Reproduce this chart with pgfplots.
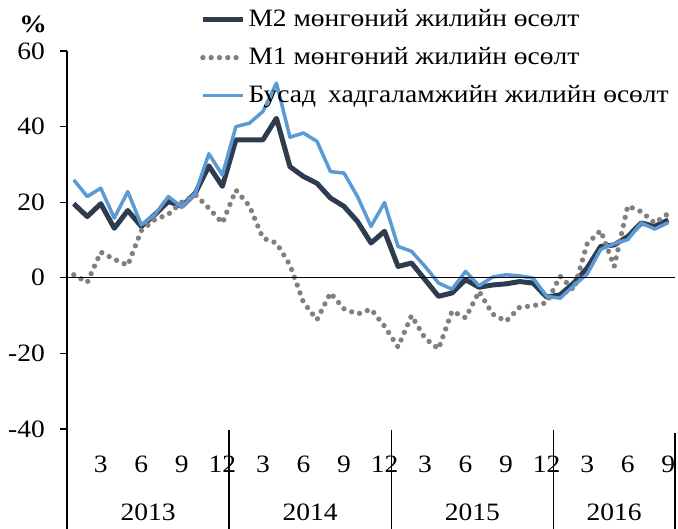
\documentclass[border=0pt]{standalone}
\usepackage{fontspec}
\setmainfont{Liberation Serif}[FakeStretch=1.10]
\usepackage{pgfplots}
\usepackage{pgfplotstable}
\pgfplotsset{compat=1.18}

\definecolor{mtwo}{RGB}{46,60,80}
\definecolor{mone}{RGB}{128,128,128}
\definecolor{busad}{RGB}{91,155,213}

% months 2013-01 .. 2016-09, y/y growth, %
\pgfplotstableread{
m  m2    m1     bus
1  19.6   0.8   25.9
2  16.2  -1.2   21.5
3  19.6   6.8   23.7
4  13.1   4.9   15.8
5  17.8   3.3   22.8
6  13.6  12.5   14.0
7  16.7  15.4   16.7
8  20.2  16.8   21.5
9  18.9  20.0   18.7
10 22.4  22.0   22.4
11 29.6  18.4   32.8
12 24.2  14.5   27.2
13 36.5  23.2   40.0
14 36.5  19.0   40.9
15 36.5  10.5   44.0
16 42.2   9.2   51.5
17 29.4   3.4   37.2
18 26.8  -6.5   38.3
19 25.0 -11.1   36.1
20 21.1  -4.0   28.1
21 18.9  -8.2   27.7
22 14.9  -9.6   21.5
23  9.2  -8.3   13.6
24 12.3 -12.8   19.9
25  3.0 -18.3    8.3
26  3.9 -10.0    7.0
27 -0.5 -16.0    3.0
28 -4.9 -18.8   -1.4
29 -4.0  -8.8   -3.0
30 -0.5 -10.6    1.7
31 -2.5  -3.6   -2.1
32 -1.9  -9.6    0.2
33 -1.6 -11.5    0.8
34 -1.0  -7.8    0.5
35 -1.4  -7.4   -0.1
36 -5.1  -6.6   -4.9
37 -4.5   0.4   -5.4
38 -1.4  -3.2   -2.1
39  2.6   9.0    1.0
40  8.3  12.5    7.5
41  8.7   3.0    9.0
42 10.9  19.0   10.1
43 14.5  17.5   14.5
44 13.6  14.5   12.9
45 15.3  17.0   14.6
}\growth

\begin{document}
\begin{tikzpicture}[x=1bp,y=1bp]
\useasboundingbox (0,0) rectangle (678,529);
\node[font=\bfseries\fontsize{25bp}{30bp}\selectfont] at (33,505) {\%};
\begin{axis}[
    at={(67bp,100bp)}, anchor=south west,
    scale only axis, width=608bp, height=378bp,
    xmin=0.5, xmax=45.5, ymin=-40, ymax=60,
    axis x line*=bottom, axis y line*=left,
    axis line style={-, line width=1.3bp, black},
    x axis line style={draw=none},
    xtick={3,6,...,45},
    xticklabels={3,6,9,12,3,6,9,12,3,6,9,12,3,6,9},
    xtick style={draw=none},
    ytick={-40,-20,0,20,40,60},
    yticklabels={-40,-20,0,20,40,60},
    ytick style={line width=1.3bp, black},
    tick align=outside, major tick length=7bp,
    ticklabel style={font=\fontsize{25bp}{30bp}\selectfont},
    xticklabel style={anchor=center, yshift=-28bp},
    yticklabel style={anchor=east, inner xsep=0pt, xshift=-15bp},
    clip=false,
    legend cell align=left,
    legend style={at={(axis description cs:0.2188,1.114)}, anchor=north west,
      draw=none, fill=none, inner sep=0pt, row sep=15bp, column sep=3bp,
      font=\fontsize{25bp}{30bp}\selectfont,
      nodes={inner sep=0pt, text height=18bp, text depth=5bp}},
    legend image code/.code={\draw[#1] (0bp,0bp) -- (40bp,0bp);},
  ]
  \addplot[mtwo, line width=5bp, line join=round] table[x=m, y=m2] {\growth};
  \addlegendentry{M2 мөнгөний жилийн өсөлт}
  \addplot[mone, line width=5.3bp, line cap=round, dash pattern=on 0bp off 8.3bp] table[x=m, y=m1] {\growth};
  \addlegendentry{M1 мөнгөний жилийн өсөлт}
  \addplot[busad, line width=3.5bp, line join=round] table[x=m, y=bus] {\growth};
  \addlegendentry{Бусад\hspace{12bp}хадгаламжийн жилийн өсөлт}

  % zero line, axis extension and year separators
  \draw[black, line width=1.3bp] (axis cs:0.5,0) -- (axis cs:45.5,0);
  \draw[black, line width=1.3bp] (axis cs:0.5,-40) -- (axis cs:0.5,-66.8);
  \draw[black, line width=1.3bp] (axis cs:12.5,-40.3) -- (axis cs:12.5,-66.8);
  \draw[black, line width=1.3bp] (axis cs:24.5,-40.3) -- (axis cs:24.5,-66.8);
  \draw[black, line width=1.3bp] (axis cs:36.5,-40.3) -- (axis cs:36.5,-66.8);
  \draw[black, line width=1.3bp] (axis cs:45.5,-41) -- (axis cs:45.5,-66.8);
  % year labels
  \node[font=\fontsize{25bp}{30bp}\selectfont, yshift=-83bp] at (axis cs:6.5,-40) {2013};
  \node[font=\fontsize{25bp}{30bp}\selectfont, yshift=-83bp] at (axis cs:18.5,-40) {2014};
  \node[font=\fontsize{25bp}{30bp}\selectfont, yshift=-83bp] at (axis cs:30.5,-40) {2015};
  \node[font=\fontsize{25bp}{30bp}\selectfont, yshift=-83bp] at (axis cs:41,-40) {2016};
\end{axis}
\end{tikzpicture}
\end{document}
